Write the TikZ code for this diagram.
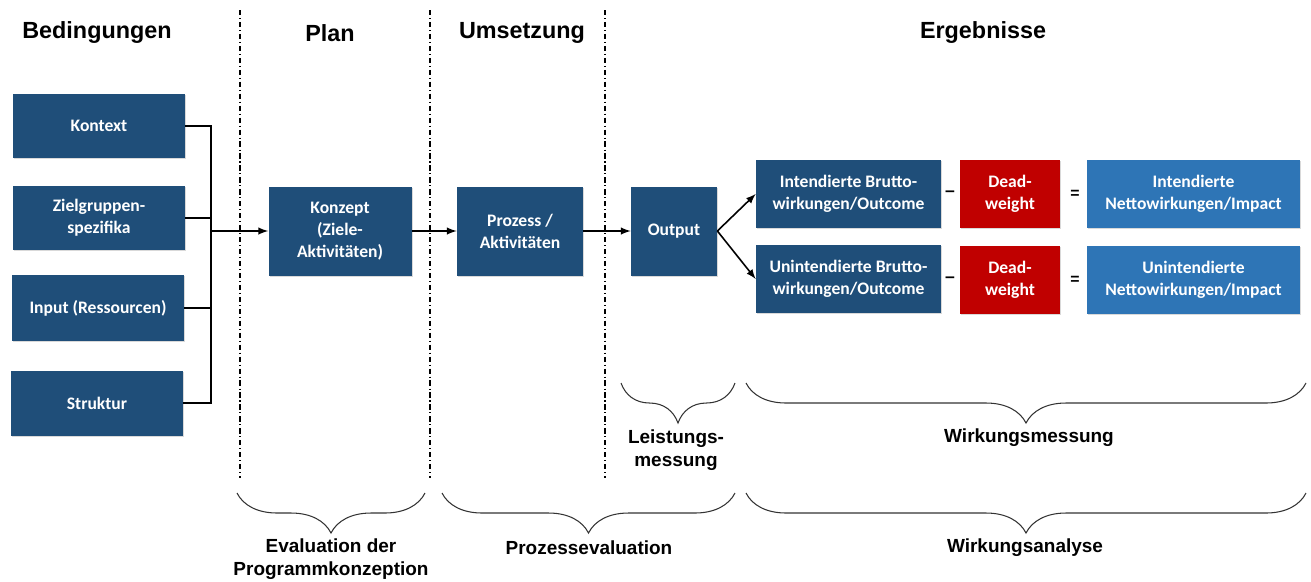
\documentclass[tikz,border=0pt]{standalone}
\usepackage{fontspec}
\setmainfont{Liberation Sans}
\newfontfamily\boxfont{Carlito}
\usetikzlibrary{decorations.pathreplacing,shadows}
\definecolor{dunkelblau}{RGB}{31,78,121}
\definecolor{hellblau}{RGB}{46,117,182}
\definecolor{dwrot}{RGB}{192,0,0}
\tikzset{
  kasten/.style={fill=dunkelblau,text=white,align=center,inner sep=2pt,
    font=\boxfont\bfseries\fontsize{10}{12.5}\selectfont,
    drop shadow={opacity=0.3,shadow xshift=0.6pt,shadow yshift=-0.6pt}},
  kopf/.style={font=\bfseries\fontsize{13.3}{16}\selectfont},
  unten/.style={align=center,font=\bfseries\fontsize{10.8}{12.7}\selectfont},
  trenner/.style={dash pattern=on 3pt off 1.6pt on 0.6pt off 1.6pt,line width=0.6pt},
  klammer/.style={decorate,decoration={brace,mirror,amplitude=0.8cm},line width=0.6pt,draw=black!80},
  pfeil/.style={-latex,line width=0.9pt}
}
\begin{document}
\begin{tikzpicture}
\useasboundingbox (0,0) rectangle (26.22,-11.62);
% Spaltenkoepfe
\node[kopf] (hbed) at (1.94,-0.66) {Bedingungen};
\node[kopf] (hplan) at (6.6,-0.66) {Plan};
\node[kopf] (hums) at (10.44,-0.66) {Umsetzung};
\node[kopf] (herg) at (19.66,-0.66) {Ergebnisse};
% Trennlinien
\draw[trenner] (4.8,-0.2)--(4.8,-9.56);
\draw[trenner] (8.6,-0.2)--(8.6,-9.56);
\draw[trenner] (12.1,-0.2)--(12.1,-9.56);
% Bedingungen
\node[kasten,minimum width=3.44cm,minimum height=1.28cm] (kontext) at (1.98,-2.52) {Kontext};
\node[kasten,minimum width=3.44cm,minimum height=1.28cm] (ziel) at (1.98,-4.36) {Zielgruppen-\\spezifika};
\node[kasten,minimum width=3.44cm,minimum height=1.32cm] (input) at (1.96,-6.16) {Input (Ressourcen)};
\node[kasten,minimum width=3.44cm,minimum height=1.3cm] (struktur) at (1.94,-8.06) {Struktur};
% Plan, Umsetzung, Output
\node[kasten,minimum width=2.86cm,minimum height=1.78cm] (konzept) at (6.8,-4.62) {Konzept\\(Ziele-\\Aktivitäten)};
\node[kasten,minimum width=2.52cm,minimum height=1.78cm] (prozess) at (10.4,-4.62) {Prozess /\\Aktivitäten};
\node[kasten,minimum width=1.72cm,minimum height=1.78cm] (output) at (13.48,-4.62) {Output};
% Ergebnisse
\node[kasten,minimum width=3.7cm,minimum height=1.36cm] (ib) at (16.97,-3.88) {Intendierte Brutto-\\wirkungen/Outcome};
\node[kasten,minimum width=3.7cm,minimum height=1.36cm] (ub) at (16.97,-5.58) {Unintendierte Brutto-\\wirkungen/Outcome};
\node[kasten,fill=dwrot,minimum width=2cm,minimum height=1.36cm] (dw1) at (20.2,-3.88) {Dead-\\weight};
\node[kasten,fill=dwrot,minimum width=2cm,minimum height=1.36cm] (dw2) at (20.2,-5.6) {Dead-\\weight};
\node[kasten,fill=hellblau,minimum width=4.26cm,minimum height=1.36cm] (in) at (23.87,-3.88) {Intendierte\\Nettowirkungen/Impact};
\node[kasten,fill=hellblau,minimum width=4.26cm,minimum height=1.36cm] (un) at (23.87,-5.6) {Unintendierte\\Nettowirkungen/Impact};
\node[font=\bfseries] (minus1) at (19.0,-3.88) {--};
\node[font=\bfseries] (minus2) at (19.0,-5.6) {--};
\node[font=\bfseries\small] (gleich1) at (21.5,-3.88) {=};
\node[font=\bfseries\small] (gleich2) at (21.5,-5.6) {=};
% Verbindungen
\coordinate (bt) at (4.22,-2.52);
\coordinate (bb) at (4.22,-8.06);
\draw[line width=0.9pt] (kontext.east)--(kontext.east-|bt)--(struktur.east-|bb)--(struktur.east);
\draw[line width=0.9pt] (ziel.east)--(ziel.east-|bt);
\draw[line width=0.9pt] (input.east)--(input.east-|bt);
\draw[pfeil] (konzept.west-|bt)--(konzept.west);
\draw[pfeil] (konzept)--(prozess);
\draw[pfeil] (prozess)--(output);
\draw[pfeil] (output.east)--(ib.west);
\draw[pfeil] (output.east)--(ub.west);
% Klammern
\draw[klammer] (12.42,-7.66)--(14.7,-7.66);
\node[unten] (leist) at (13.52,-9.0) {Leistungs-\\messung};
\draw[klammer] (14.92,-7.66)--(26.12,-7.66);
\node[unten] (wmess) at (20.58,-8.76) {Wirkungsmessung};
\draw[klammer] (4.74,-9.86)--(8.5,-9.86);
\node[unten] (evalprog) at (6.62,-11.18) {Evaluation der\\Programmkonzeption};
\draw[klammer] (8.84,-9.86)--(14.7,-9.86);
\node[unten] (proz) at (11.78,-10.96) {Prozessevaluation};
\draw[klammer] (14.92,-9.86)--(26.12,-9.86);
\node[unten] (wana) at (20.5,-10.96) {Wirkungsanalyse};
\end{tikzpicture}
\end{document}
